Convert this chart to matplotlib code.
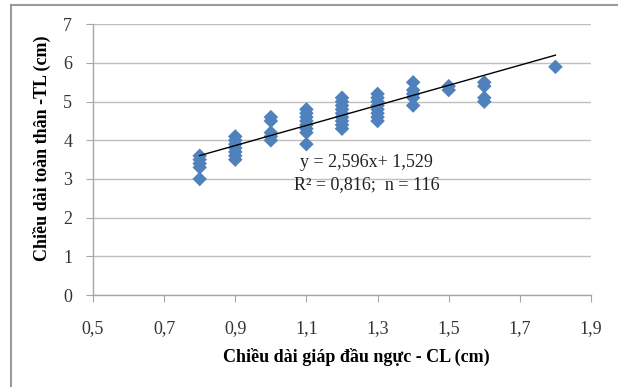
import numpy as np
import matplotlib
matplotlib.use("Agg")
import matplotlib.pyplot as plt
from matplotlib.lines import Line2D

# ---- data ----
cl_08 = [3.0, 3.3, 3.4, 3.5, 3.6]
cl_09 = [3.5, 3.6, 3.7, 3.8, 3.9, 4.0, 4.1]
cl_10 = [4.0, 4.1, 4.2, 4.5, 4.6]
cl_11 = [3.9, 4.2, 4.3, 4.4, 4.5, 4.6, 4.7, 4.8]
cl_12 = [4.3, 4.4, 4.5, 4.6, 4.7, 4.8, 4.9, 5.0, 5.1]
cl_13 = [4.5, 4.6, 4.7, 4.8, 4.9, 5.0, 5.1, 5.2]
cl_14 = [4.9, 5.1, 5.2, 5.3, 5.5]
cl_15 = [5.3, 5.4]
cl_16 = [5.0, 5.1, 5.4, 5.5]
cl_18 = [5.9]
groups = {0.8: cl_08, 0.9: cl_09, 1.0: cl_10, 1.1: cl_11, 1.2: cl_12,
          1.3: cl_13, 1.4: cl_14, 1.5: cl_15, 1.6: cl_16, 1.8: cl_18}

slope = 2.596
intercept = 1.529
r2_text = "R² = 0,816;  n = 116"
eq_text = "y = 2,596x+ 1,529"

x_ticks = [0.5, 0.7, 0.9, 1.1, 1.3, 1.5, 1.7, 1.9]
x_ticklabels = ["0,5", "0,7", "0,9", "1,1", "1,3", "1,5", "1,7", "1,9"]
y_ticks = [0, 1, 2, 3, 4, 5, 6, 7]

xs = np.concatenate([[k] * len(v) for k, v in groups.items()])
ys = np.concatenate([v for v in groups.values()])

plt.rcParams['font.family'] = ['Liberation Serif', 'DejaVu Serif']

fig = plt.figure(figsize=(6.18, 3.87), dpi=100)
ax = fig.add_axes([93 / 618, 1 - 295 / 387, (591 - 93) / 618, (295 - 24.3) / 387])

ax.set_xlim(0.5, 1.9)
ax.set_ylim(0, 7)
ax.set_yticks(y_ticks)
ax.set_xticks(x_ticks)
ax.set_xticklabels(x_ticklabels)
ax.yaxis.grid(True, color='#bfbfbf', linewidth=1.0)
ax.set_axisbelow(True)
for s in ['top', 'right']:
    ax.spines[s].set_visible(False)
for s in ['left', 'bottom']:
    ax.spines[s].set_color('#a6a6a6')
    ax.spines[s].set_linewidth(1.0)
ax.tick_params(axis='both', direction='out', length=5, color='#a6a6a6',
               labelsize=13, labelcolor='#333333')
ax.tick_params(axis='x', pad=13)
ax.tick_params(axis='y', pad=10)

ax.scatter(xs, ys, marker='D', s=55, color='#4F81BD', edgecolors='none', zorder=3)

xl = np.array([xs.min(), xs.max()])
ax.plot(xl, slope * xl + intercept, color='black', linewidth=1.0, zorder=4)

ax.text(1.27, 3.42, eq_text, fontsize=13, ha='center', va='center', color='#222222')
ax.text(1.27, 2.85, r2_text, fontsize=13, ha='center', va='center', color='#222222')

fig.text(356 / 618, 1 - 357 / 387, "Chiều dài giáp đầu ngực - CL (cm)", fontsize=13,
         fontweight='bold', ha='center', va='center')
fig.text(42 / 618, 1 - 148 / 387, "Chiều dài toàn thân -TL (cm)", fontsize=13,
         fontweight='bold', ha='center', va='center', rotation=90)

# outer chart frame (left and top edges visible)
fig.add_artist(Line2D([10.5 / 618, 10.5 / 618], [0, 1 - 5 / 387], transform=fig.transFigure,
                      color='#9a9a9a', linewidth=1.5))
fig.add_artist(Line2D([10.5 / 618, 1], [1 - 5 / 387, 1 - 5 / 387], transform=fig.transFigure,
                      color='#9a9a9a', linewidth=1.5))

fig.savefig("out.png", dpi=100)
